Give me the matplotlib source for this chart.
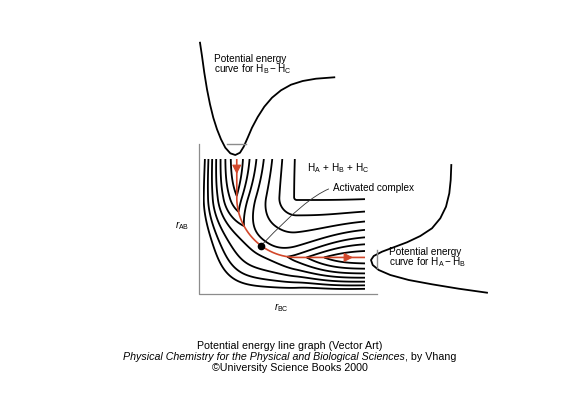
import numpy as np
import matplotlib
matplotlib.use("Agg")
import matplotlib.pyplot as plt

plt.rcParams["font.family"] = ["Liberation Sans", "DejaVu Sans"]
plt.rcParams["mathtext.fontset"] = "custom"
plt.rcParams["mathtext.rm"] = "Liberation Sans"
plt.rcParams["mathtext.it"] = "Liberation Sans:italic"
plt.rcParams["mathtext.bf"] = "Liberation Sans:bold"
plt.rcParams["contour.negative_linestyle"] = "solid"

# ---------------- data ----------------
# Potential energy surface, reduced units (well depth = 1, distances in Angstrom)
r_eq = 0.74
r_bc_range = [0.29, 2.45]
r_ab_range = [0.28, 2.05]
soft_stiffness = 1.1
hard_linear = 1.136
hard_quadratic = 1.35
turn_radius = 0.8
barrier_height = 0.35
barrier_width = 0.92
barrier_shift = 0.173
barrier_reach = 0.53
corner_softening = 0.68
softening_center = 0.1
softening_width = 0.85
contour_energies = [0.1, 0.2, 0.3, 0.4, 0.5, 0.6, 0.7]

# H_B - H_C potential energy curve (pixel coordinates)
bc_curve_x = [200.0, 202.0, 204.3, 207.0, 210.0, 213.3, 217.0, 221.0, 225.3, 230.3,
              235.3, 240.0, 243.7, 247.7, 252.0, 257.7, 264.3, 272.0, 281.0, 291.0,
              302.7, 316.0, 334.3]
bc_curve_y = [42.7, 56.0, 72.7, 89.3, 104.3, 117.7, 129.3, 139.3, 147.7, 153.3,
              155.0, 152.7, 146.7, 137.7, 127.7, 117.0, 106.7, 97.7, 90.3, 84.7,
              81.0, 78.7, 77.3]
bc_zero_point_x = [226.7, 246.0]
bc_zero_point_y = [144.3, 144.3]

# H_A - H_B potential energy curve (pixel coordinates)
ab_curve_x = [451.3, 450.7, 449.3, 446.0, 440.3, 432.0, 420.3, 407.0, 393.7, 382.0,
              373.7, 371.0, 372.7, 378.7, 390.3, 408.7, 432.0, 458.7, 487.0]
ab_curve_y = [165.0, 180.0, 193.3, 206.7, 218.3, 228.3, 236.0, 242.3, 247.3, 251.7,
              256.0, 260.0, 265.0, 270.0, 275.0, 280.0, 284.3, 288.7, 292.7]
ab_zero_point_x = [377.0, 377.0]
ab_zero_point_y = [250.0, 268.0]

# axis frame (pixel coordinates)
frame_x = [198.5, 198.5, 377.0]
frame_y = [144.0, 293.5, 293.5]

red = "#d2472a"
grey = "#8c8c8c"


def path_offset(X, Y):
    R = turn_radius
    u = X - R
    v = Y - R
    up = np.maximum(u, 1e-9)
    vp = np.maximum(v, 1e-9)
    corner = R + (up ** -4 + vp ** -4) ** -0.25
    arc = R - np.hypot(u, v)
    return np.where((u <= 0) & (v <= 0), arc,
                    np.where(u <= 0, X, np.where(v <= 0, Y, corner)))


def path_projection(X, Y):
    R = turn_radius
    u = X - R
    v = Y - R
    rho = np.maximum(np.hypot(u, v), 1e-9)
    in_corner = (u <= 0) & (v <= 0)
    Xp = np.where(in_corner, R + u * R / rho, np.where(u <= 0, 0.0, X))
    Yp = np.where(in_corner, R + v * R / rho, np.where(u <= 0, Y, 0.0))
    return Xp, Yp


def surface(rbc, rab):
    X = rbc - r_eq
    Y = rab - r_eq
    dr = path_offset(X, Y)
    # soft (outer) side of the valley
    along = np.exp(-np.abs((X - Y - barrier_shift) / barrier_width) ** 3)
    dp = np.maximum(dr, 0)
    floor = 1 - barrier_height * along * np.exp(-(dp / barrier_reach) ** 2)
    soft = -(1 - np.tanh(soft_stiffness * dp)) * floor
    # steep (repulsive) side of the valley
    Xp, Yp = path_projection(X, Y)
    dpath = Xp - Yp
    rise = barrier_height * np.exp(-np.abs((dpath - barrier_shift) / barrier_width) ** 3)
    soften = corner_softening * np.exp(-((dpath - softening_center) / softening_width) ** 2)
    d = np.maximum(-dr, 0)
    hard = -(1 - rise) + (hard_linear * d + hard_quadratic * d ** 2) * (1 - soften)
    return np.where(dr >= 0, soft, hard)


W, H = 580, 394
fig = plt.figure(figsize=(W / 100, H / 100), dpi=100)
ax = fig.add_axes([0, 0, 1, 1])
ax.set_xlim(0, W)
ax.set_ylim(H, 0)
ax.axis("off")

# side curves and frame
ax.plot(bc_curve_x, bc_curve_y, color="black", lw=1.3, solid_joinstyle="round")
ax.plot(ab_curve_x, ab_curve_y, color="black", lw=1.3, solid_joinstyle="round")
ax.plot(bc_zero_point_x, bc_zero_point_y, color=grey, lw=1.0)
ax.plot(ab_zero_point_x, ab_zero_point_y, color=grey, lw=1.0)
ax.plot(frame_x, frame_y, color=grey, lw=0.9)

# contour panel
box_l, box_r, box_t, box_b = 203, 365, 159, 292
axc = fig.add_axes([box_l / W, (H - box_b) / H, (box_r - box_l) / W, (box_b - box_t) / H])
axc.set_xlim(*r_bc_range)
axc.set_ylim(*r_ab_range)
axc.axis("off")

rbc = np.linspace(r_bc_range[0], r_bc_range[1], 700)
rab = np.linspace(r_ab_range[0], r_ab_range[1], 600)
RBC, RAB = np.meshgrid(rbc, rab)
V = surface(RBC, RAB)
axc.contour(RBC, RAB, V, levels=[-1 + e for e in contour_energies],
            colors="black", linewidths=1.3, linestyles="solid")

# reaction path
R = turn_radius
y_top = r_ab_range[1] - r_eq
x_end = r_bc_range[1] - r_eq
seg1_y = np.linspace(y_top, R, 40)
phi = np.linspace(0, np.pi / 2, 90)
arc_x = R - R * np.cos(phi)
arc_y = R - R * np.sin(phi)
seg3_x = np.linspace(R, x_end, 40)
path_x = r_eq + np.concatenate([np.zeros_like(seg1_y), arc_x, seg3_x])
path_y = r_eq + np.concatenate([seg1_y, arc_y, np.zeros_like(seg3_x)])
axc.plot(path_x, path_y, color=red, lw=1.2, solid_capstyle="butt", zorder=3)

arrow_kw = dict(arrowstyle="-|>,head_length=0.55,head_width=0.28", color=red,
                lw=0.8, shrinkA=0, shrinkB=0, mutation_scale=10)
axc.annotate("", xy=(r_eq, r_ab_range[1] - 0.2), xytext=(r_eq, r_ab_range[1] - 0.1),
             arrowprops=arrow_kw, annotation_clip=False, zorder=4)
axc.annotate("", xy=(r_bc_range[1] - 0.16, r_eq), xytext=(r_bc_range[1] - 0.26, r_eq),
             arrowprops=arrow_kw, annotation_clip=False, zorder=4)

# saddle point (activated complex)
i_s = np.argmin(np.abs(arc_x - arc_y - barrier_shift))
sx, sy = r_eq + arc_x[i_s], r_eq + arc_y[i_s]
axc.plot([sx], [sy], "o", ms=4.5, color="black", zorder=6)

fs = 7.2
axc.annotate("Activated complex", xy=(sx, sy), xycoords="data",
             xytext=(332.7, 190.5), textcoords=ax.transData,
             ha="left", va="baseline", fontsize=fs,
             arrowprops=dict(arrowstyle="-", color="#333333", lw=0.6,
                             shrinkA=1, shrinkB=2.5, relpos=(0, 0.5),
                             connectionstyle="angle3,angleA=17,angleB=47"),
             annotation_clip=False, zorder=5)

# labels
ax.text(214, 61.5, "Potential energy", fontsize=fs, va="baseline")
ax.text(214, 72, r"curve for $\mathregular{H_B - H_C}$", fontsize=fs, va="baseline")
ax.text(388.7, 255, "Potential energy", fontsize=fs, va="baseline")
ax.text(388.7, 265.5, r"curve for $\mathregular{H_A - H_B}$", fontsize=fs, va="baseline")
ax.text(306.7, 170.7, r"$\mathregular{H_A\,+\,H_B\,+\,H_C}$", fontsize=fs, va="baseline")
ax.text(175, 228, r"$r_{\mathregular{AB}}$", fontsize=fs, va="baseline")
ax.text(274, 310.7, r"$r_{\mathregular{BC}}$", fontsize=fs, va="baseline")

# caption
cfs = 7.7
ax.text(290, 349, "Potential energy line graph (Vector Art)", fontsize=cfs,
        ha="center", va="baseline")
t_a = ax.text(0, 360, "Physical Chemistry for the Physical and Biological Sciences",
              fontsize=cfs, style="italic", va="baseline")
t_b = ax.text(0, 360, ", by Vhang", fontsize=cfs, va="baseline")
ax.text(290, 371, "\u00a9University Science Books 2000", fontsize=cfs,
        ha="center", va="baseline")
renderer = fig.canvas.get_renderer()
wa = t_a.get_window_extent(renderer).width
wb = t_b.get_window_extent(renderer).width
x0 = 290 - (wa + wb) / 2
t_a.set_x(x0)
t_b.set_x(x0 + wa)

fig.savefig("out.png", dpi=100)
